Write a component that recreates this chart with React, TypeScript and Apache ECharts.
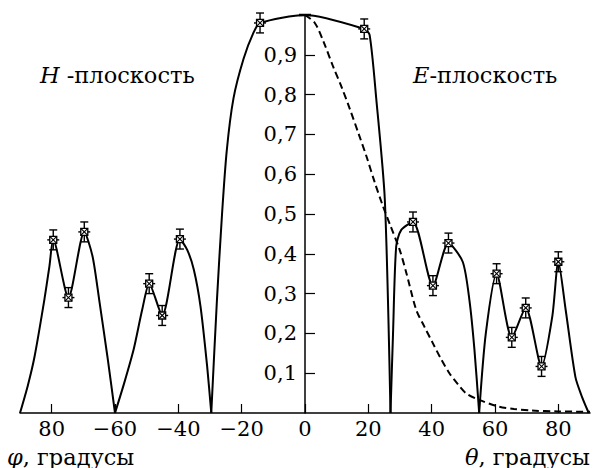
import React, { useEffect, useRef } from "react";
import * as echarts from "echarts";

// Solid curve, split into lobes (angle in degrees, relative amplitude)
const lobeH1: [number, number][] = [
  [-90, 0], [-87.5, 0.07], [-85.4, 0.142], [-82.3, 0.285], [-80.7, 0.369], [-79.5, 0.435],
  [-74.7, 0.29], [-69.7, 0.455], [-67.1, 0.394], [-65, 0.285], [-62.4, 0.142], [-60, 0],
];
const lobeH2: [number, number][] = [
  [-60, 0], [-57.1, 0.075], [-54.1, 0.16], [-51.4, 0.26], [-49.2, 0.325], [-45.1, 0.245],
  [-39.5, 0.437], [-37.2, 0.41], [-35.1, 0.36], [-33, 0.268], [-30.9, 0.117], [-29.6, 0],
];
const lobeMain: [number, number][] = [
  [-29.6, 0], [-27.8, 0.285], [-26.2, 0.5], [-24.7, 0.66], [-22.6, 0.79], [-19.4, 0.89],
  [-16.3, 0.955], [-14.2, 0.98], [0, 1.0], [18.7, 0.965], [20.4, 0.95], [22.5, 0.79],
  [25.2, 0.537], [27, 0],
];
const lobeE1: [number, number][] = [
  [27, 0], [27.8, 0.2], [28.8, 0.419], [30.4, 0.46], [34.1, 0.48], [40.4, 0.32],
  [45.3, 0.427], [49.8, 0.38], [51.9, 0.285], [53.5, 0.16], [55, 0],
];
const lobeE2: [number, number][] = [
  [55, 0], [57.1, 0.2], [60.5, 0.35], [65.3, 0.19], [69.7, 0.264], [74.7, 0.117],
  [78.1, 0.243], [80, 0.38], [82.3, 0.26], [85.4, 0.09], [87.5, 0.04], [89.6, 0],
];

// Dashed curve
const dashed: [number, number][] = [
  [0, 1.0], [3.1, 0.98], [6, 0.93], [8.9, 0.87], [11.5, 0.82], [14.2, 0.763], [17, 0.7],
  [19.4, 0.645], [22, 0.58], [24.6, 0.52], [27, 0.47], [29.9, 0.41], [32, 0.352],
  [35.1, 0.26], [37.7, 0.217], [40.4, 0.175], [43, 0.135], [45.6, 0.1], [48, 0.075],
  [50.8, 0.05], [55, 0.033], [61.3, 0.016], [66, 0.01], [71.7, 0.006], [80, 0.004], [90, 0.003],
];

// Measured points with error bars
const markers: [number, number][] = [
  [-79.5, 0.435], [-74.7, 0.29], [-69.7, 0.455], [-49.2, 0.325], [-45.1, 0.245], [-39.5, 0.437],
  [-14.2, 0.98], [0, 1.0], [18.7, 0.965], [34.1, 0.48], [40.4, 0.32], [45.3, 0.427],
  [60.5, 0.35], [65.3, 0.19], [69.7, 0.264], [74.7, 0.117], [80, 0.38],
];

const xTicks = [-80, -60, -40, -20, 0, 20, 40, 60, 80];
const yTicks = [0.1, 0.2, 0.3, 0.4, 0.5, 0.6, 0.7, 0.8, 0.9];

const FONT = "DejaVu Serif";
const FS = 21;
const FS_TEXT = 22.5;
const GRID_LEFT = 20;
const GRID_RIGHT = 4;
const WIDTH = 594;

export default function App() {
  const ref = useRef<HTMLDivElement>(null);
  useEffect(() => {
    if (!ref.current) return;
    const chart = echarts.init(ref.current, undefined, { renderer: "svg" });
    const solid = (data: [number, number][]) => ({
      type: "line",
      data,
      smooth: 0.25,
      symbol: "none",
      lineStyle: { color: "#000", width: 2 },
      z: 3,
    });
    const ERR = 0.025;
    const plotW = WIDTH - GRID_LEFT - GRID_RIGHT;
    const zeroOffset = -plotW / 2;
    const txt = (text: string, pos: any) => ({
      type: "text",
      ...pos,
      style: {
        text,
        fontFamily: FONT,
        fontSize: FS_TEXT,
        fill: "#000",
        rich: { i: { fontStyle: "italic", fontFamily: FONT, fontSize: FS_TEXT, fill: "#000" } },
      },
    });
    chart.setOption({
      animation: false,
      backgroundColor: "#fff",
      textStyle: { fontFamily: FONT },
      grid: { left: GRID_LEFT, right: GRID_RIGHT, top: 15, bottom: 55, outerBoundsMode: "none", containLabel: false },
      xAxis: {
        type: "value",
        min: -90,
        max: 90,
        splitLine: { show: false },
        axisLine: { onZero: false, lineStyle: { color: "#000", width: 1.5 } },
        axisTick: {
          inside: true,
          length: 9,
          lineStyle: { color: "#000", width: 1.2 },
          customValues: xTicks,
        },
        axisLabel: {
          customValues: xTicks,
          margin: 5,
          color: "#000",
          fontFamily: FONT,
          fontSize: FS,
          formatter: (v: number) => (v === -80 ? "80" : v < 0 ? "\u2212" + -v : String(v)),
        },
      },
      yAxis: {
        type: "value",
        min: 0,
        max: 1,
        interval: 0.1,
        position: "left",
        offset: zeroOffset,
        splitLine: { show: false },
        axisLine: { onZero: false, lineStyle: { color: "#000", width: 1.5 } },
        axisTick: {
          inside: true,
          length: 10,
          lineStyle: { color: "#000", width: 1.2 },
          customValues: yTicks,
        },
        axisLabel: {
          customValues: yTicks,
          margin: 8,
          color: "#000",
          fontFamily: FONT,
          fontSize: FS,
          formatter: (v: number) => v.toFixed(1).replace(".", ","),
        },
      },
      series: [
        {
          type: "line",
          data: dashed,
          smooth: 0.3,
          symbol: "none",
          lineStyle: { color: "#000", width: 2, type: [7, 4] },
          z: 2,
        },
        solid(lobeH1),
        solid(lobeH2),
        solid(lobeMain),
        solid(lobeE1),
        solid(lobeE2),
        {
          type: "custom",
          data: markers,
          encode: { x: 0, y: 1 },
          clip: false,
          z: 5,
          renderItem: (_p: any, api: any) => {
            const x = api.value(0);
            const y = api.value(1);
            const c = api.coord([x, y]);
            const top = api.coord([x, y + ERR]);
            const bot = api.coord([x, y - ERR]);
            const st = { stroke: "#000", lineWidth: 1.4, fill: "none" };
            if (x === 0) {
              return {
                type: "line",
                shape: { x1: c[0] - 6, y1: c[1], x2: c[0] + 6, y2: c[1] },
                style: { stroke: "#000", lineWidth: 2.5 },
              };
            }
            const s = 3.5;
            return {
              type: "group",
              children: [
                { type: "line", shape: { x1: c[0], y1: top[1], x2: c[0], y2: bot[1] }, style: st },
                { type: "line", shape: { x1: c[0] - 4, y1: top[1], x2: c[0] + 4, y2: top[1] }, style: st },
                { type: "line", shape: { x1: c[0] - 4, y1: bot[1], x2: c[0] + 4, y2: bot[1] }, style: st },
                { type: "line", shape: { x1: c[0] - 6, y1: c[1], x2: c[0] + 6, y2: c[1] }, style: st },
                {
                  type: "rect",
                  shape: { x: c[0] - s, y: c[1] - s, width: 2 * s, height: 2 * s },
                  style: { stroke: "#000", lineWidth: 1.3, fill: "#fff" },
                },
                { type: "line", shape: { x1: c[0] - s, y1: c[1] - s, x2: c[0] + s, y2: c[1] + s }, style: { stroke: "#000", lineWidth: 1.1 } },
                { type: "line", shape: { x1: c[0] - s, y1: c[1] + s, x2: c[0] + s, y2: c[1] - s }, style: { stroke: "#000", lineWidth: 1.1 } },
              ],
            };
          },
        },
      ],
      graphic: [
        txt("{i|H} -плоскость", { left: 40, top: 63 }),
        txt("{i|E}-плоскость", { left: 413, top: 63 }),
        txt("{i|φ}, градусы", { left: 7, top: 445 }),
        txt("{i|θ}, градусы", { right: 4, top: 445 }),
      ],
    });
    return () => chart.dispose();
  }, []);
  return <div ref={ref} style={{ width: 594, height: 468, position: "absolute", left: 0, top: 0 }} />;
}
